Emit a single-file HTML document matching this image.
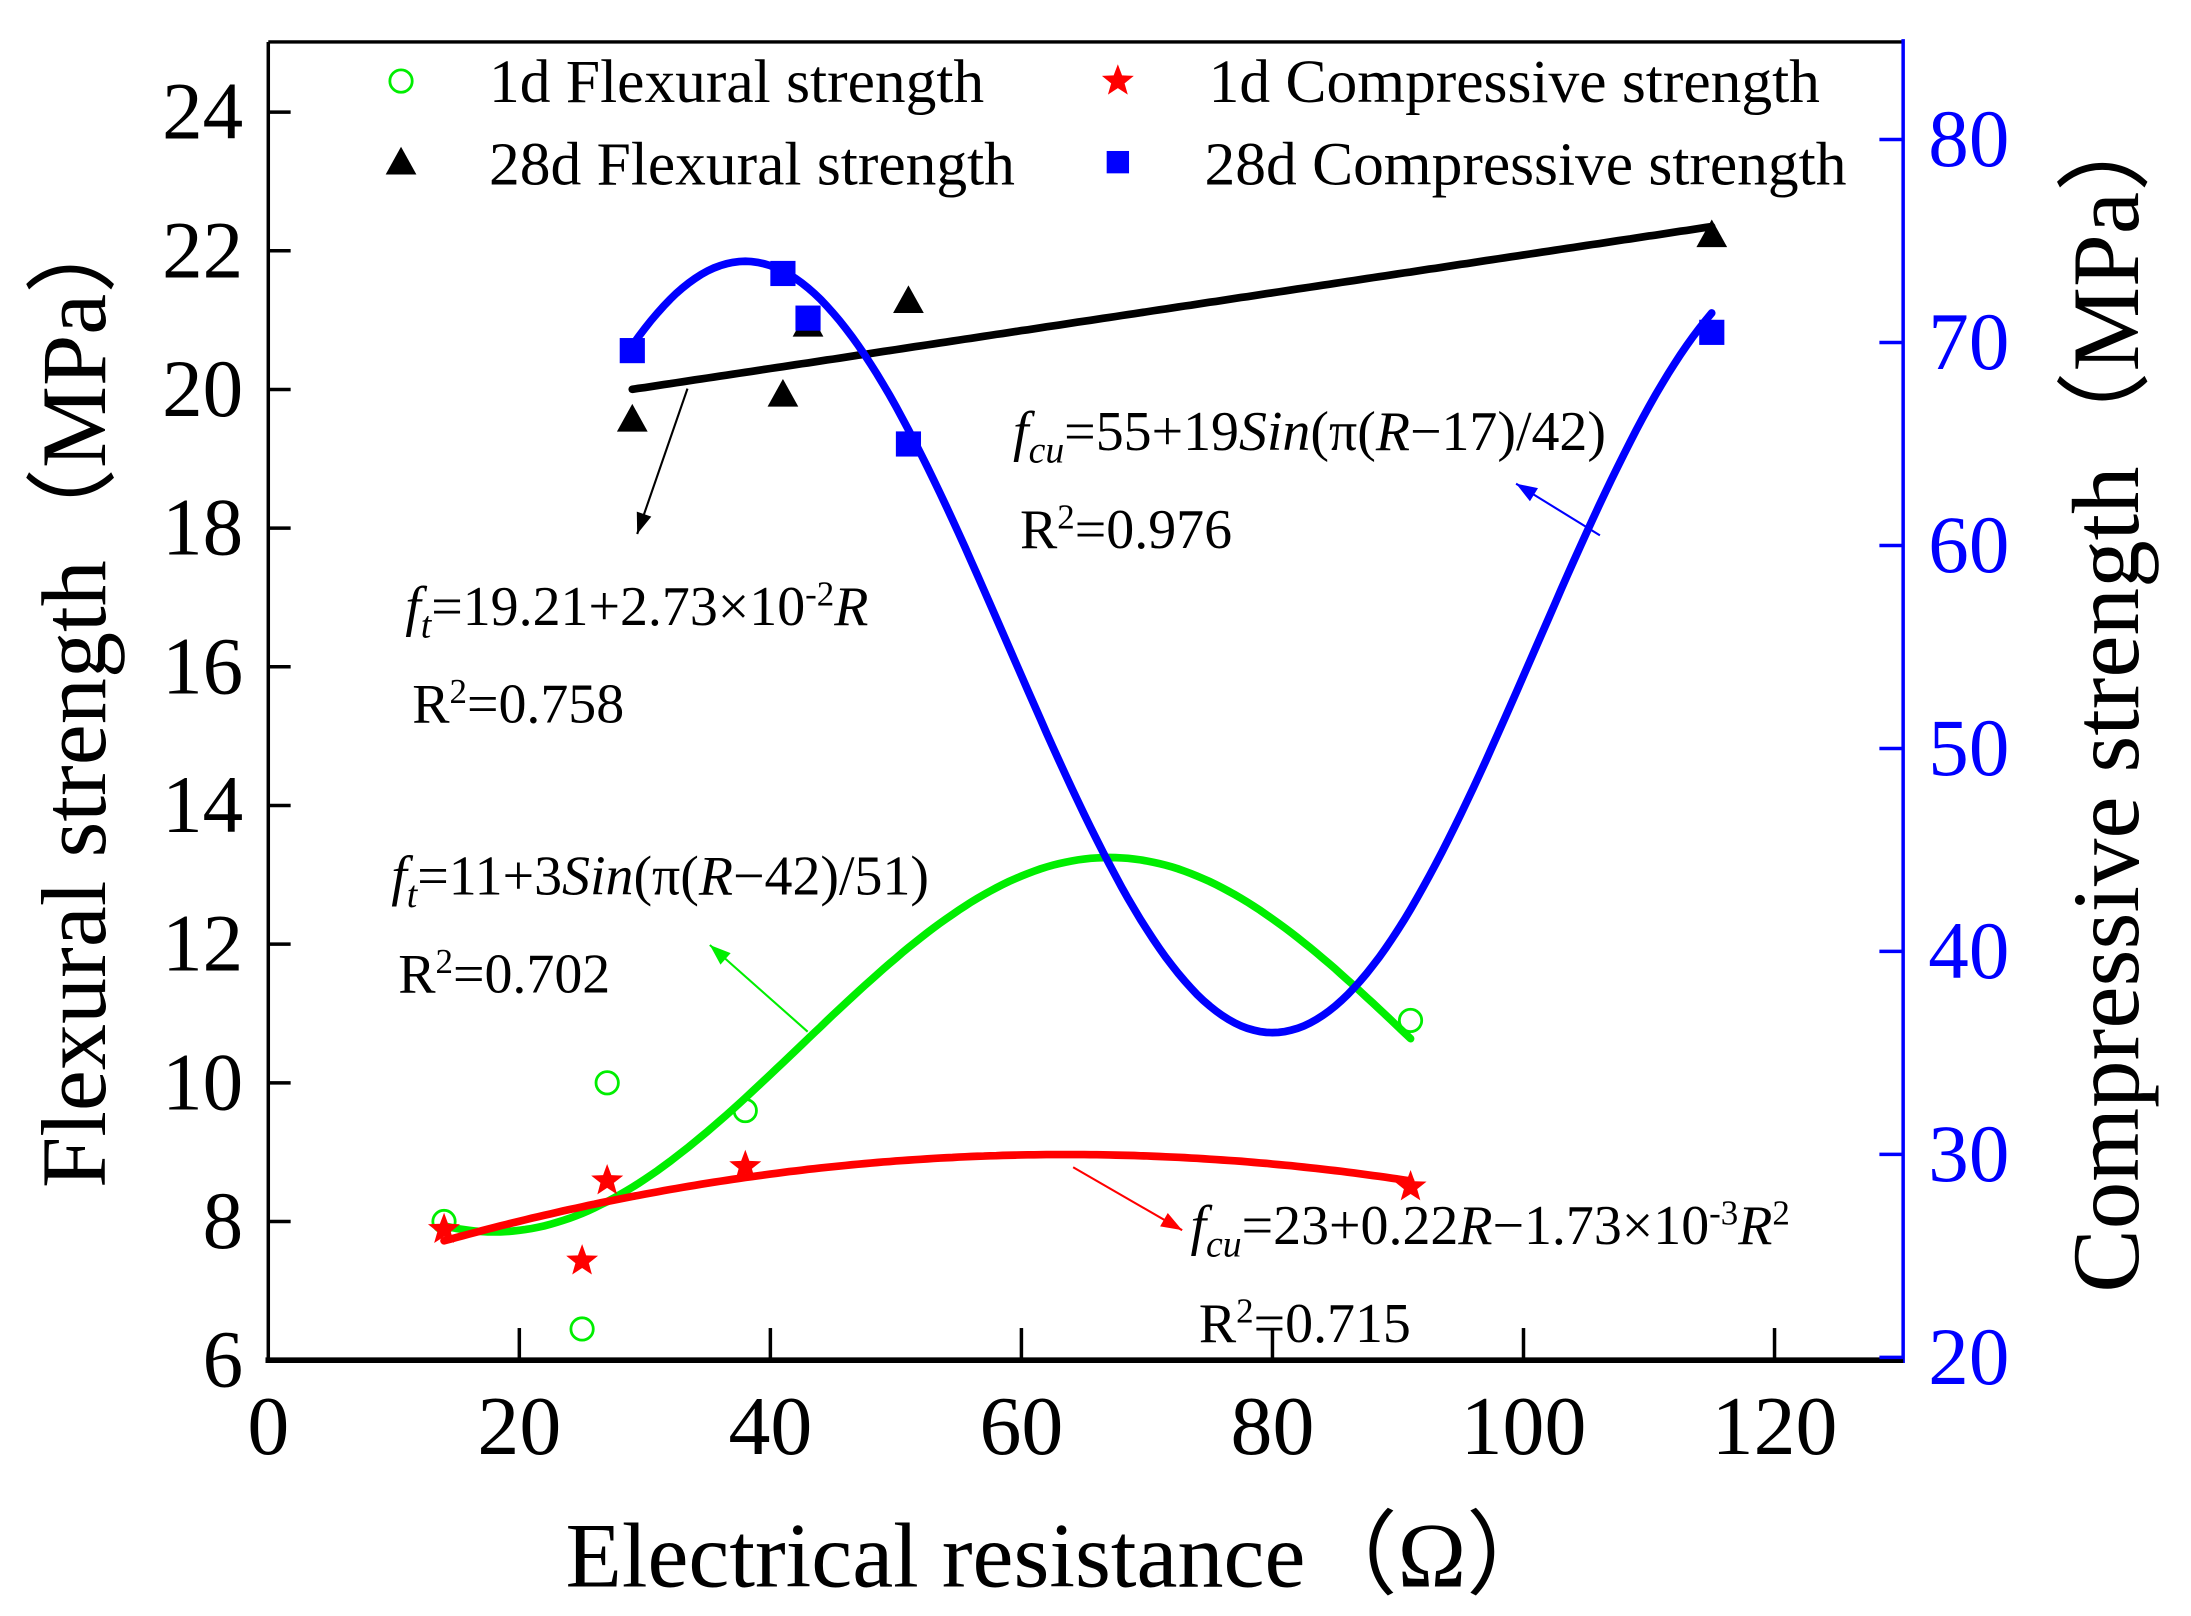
<!DOCTYPE html>
<html><head><meta charset="utf-8"><style>
html,body{margin:0;padding:0;background:#fff;}
svg{display:block;}
text{font-family:"Liberation Serif",serif;}
</style></head><body>
<svg id="chart" width="2191" height="1616" viewBox="0 0 1568 1156" preserveAspectRatio="none" xmlns="http://www.w3.org/2000/svg">
<g id="axes"></g>
<g id="curves"></g>
<g id="marks"></g>
<g id="notes"></g>
</svg>
<script>
const xTicks=[0,20,40,60,80,100,120];
const leftTicks=[6,8,10,12,14,16,18,20,22,24];
const rightTicks=[20,30,40,50,60,70,80];
const fl1X=[14,25,27,38,91];
const fl1Y=[8.0,6.45,10.0,9.6,10.9];
const co1X=[14,25,27,38,91];
const co1Y=[26.3,24.75,28.7,29.4,28.4];
const fl28X=[29,41,43,51,115];
const fl28Y=[19.57,19.93,20.94,21.28,22.23];
const co28X=[29,41,43,51,115];
const co28Y=[69.6,73.4,71.2,65.0,70.5];
const fitFl1=[10.55,2.7,42.5,49];
const fitCo1=[23,0.22,-0.00173];
const fitFl28=[19.21,0.0273];
const fitCo28=[55,19,17,42];

const NS="http://www.w3.org/2000/svg";
const X=v=>192+v*8.983, YL=v=>973-(v-6)*49.6, YR=v=>971-(v-20)*14.52;
function mk(p,tag,a,txt){const e=document.createElementNS(NS,tag);for(const k in a)e.setAttribute(k,a[k]);if(txt!=null)e.textContent=txt;p.appendChild(e);return e;}
const axes=document.getElementById('axes'),curves=document.getElementById('curves'),marks=document.getElementById('marks'),notes=document.getElementById('notes');

let e;
e=mk(axes,'line',{x1:192,y1:30,x2:1362,y2:30,stroke:'#000','stroke-width':2.5});


e=mk(axes,'line',{x1:192,y1:30,x2:192,y2:975,stroke:'#000','stroke-width':2.5});


e=mk(axes,'line',{x1:1362,y1:28,x2:1362,y2:975,stroke:'#00f','stroke-width':2.5});


e=mk(axes,'line',{x1:190,y1:973,x2:1362,y2:973,stroke:'#000','stroke-width':4});


xTicks.forEach(v=>{
  if(v>0){e=mk(axes,'line',{x1:X(v),y1:973,x2:X(v),y2:950,stroke:'#000','stroke-width':2.5});
  
  }
  e=mk(axes,'text',{x:X(v),y:1040,'font-size':60,'text-anchor':'middle'},String(v));
  
  
});
leftTicks.forEach(v=>{
  e=mk(axes,'line',{x1:192,y1:YL(v),x2:208,y2:YL(v),stroke:'#000','stroke-width':2.5});
  
  
  e=mk(axes,'text',{x:174,y:YL(v)+19,'font-size':58,'text-anchor':'end'},String(v));
  
  
});
rightTicks.forEach(v=>{
  e=mk(axes,'line',{x1:1345,y1:YR(v),x2:1362,y2:YR(v),stroke:'#00f','stroke-width':2.5});
  
  
  e=mk(axes,'text',{x:1380,y:YR(v)+19,'font-size':58,fill:'#00f'},String(v));
  
  
});
e=mk(axes,'text',{x:760,y:1135,'font-size':66,'text-anchor':'middle'},'Electrical resistance（Ω）');


e=mk(axes,'text',{x:0,y:0,'font-size':66,'text-anchor':'middle',transform:'translate(75,497) rotate(-90)'},'Flexural strength（MPa）');


e=mk(axes,'text',{x:0,y:0,'font-size':68,'text-anchor':'middle',transform:'translate(1530,497) rotate(-90)'},'Compressive strength（MPa）');



function curve(f,a,b,yf,col,name){
  let d='';for(let r=a;r<=b+1e-9;r+=0.5){d+=(d?'L':'M')+X(r).toFixed(1)+','+yf(f(r)).toFixed(1);}
  const p=mk(curves,'path',{d:d,fill:'none',stroke:col,'stroke-width':5.5,'stroke-linecap':'round'});
  
  
}
curve(r=>fitFl28[0]+fitFl28[1]*r,29,115,YL,'#000','fit-28d-flexural');
curve(r=>fitFl1[0]+fitFl1[1]*Math.sin(Math.PI*(r-fitFl1[2])/fitFl1[3]),14,91,YL,'#0e0','fit-1d-flexural');
curve(r=>fitCo1[0]+fitCo1[1]*r+fitCo1[2]*r*r,14,91,YR,'#f00','fit-1d-compressive');
curve(r=>fitCo28[0]+fitCo28[1]*Math.sin(Math.PI*(r-fitCo28[2])/fitCo28[3]),29,115,YR,'#00f','fit-28d-compressive');

function star(cx,cy,r,col){let pts=[];for(let i=0;i<10;i++){const a=-Math.PI/2+i*Math.PI/5,rr=i%2?r*0.42:r;pts.push((cx+rr*Math.cos(a)).toFixed(1)+','+(cy+rr*Math.sin(a)).toFixed(1));}return {points:pts.join(' '),fill:col};}
function tri(cx,cy,r){return {points:`${cx},${cy-r} ${cx-r},${cy+r*0.8} ${cx+r},${cy+r*0.8}`,fill:'#000'};}
fl1X.forEach((v,i)=>{e=mk(marks,'circle',{cx:X(v),cy:YL(fl1Y[i]),r:8,fill:'none',stroke:'#0e0','stroke-width':2});

});
co1X.forEach((v,i)=>{e=mk(marks,'polygon',star(X(v),YR(co1Y[i]),12,'#f00'));

});
fl28X.forEach((v,i)=>{e=mk(marks,'polygon',tri(X(v),YL(fl28Y[i]),11));

});
co28X.forEach((v,i)=>{e=mk(marks,'rect',{x:X(v)-9,y:YR(co28Y[i])-9,width:18,height:18,fill:'#00f'});

});

// legend
e=mk(notes,'circle',{cx:287,cy:58,r:8,fill:'none',stroke:'#0e0','stroke-width':2});


e=mk(notes,'text',{x:350,y:73,'font-size':44},'1d Flexural strength');


e=mk(notes,'polygon',star(800,58,12,'#f00'));


e=mk(notes,'text',{x:865,y:73,'font-size':44},'1d Compressive strength');


e=mk(notes,'polygon',tri(287,116,11));


e=mk(notes,'text',{x:350,y:132,'font-size':44},'28d Flexural strength');


e=mk(notes,'rect',{x:792,y:108,width:16,height:16,fill:'#00f'});


e=mk(notes,'text',{x:862,y:132,'font-size':44},'28d Compressive strength');



function arrow(x1,y1,x2,y2,col,name){
  const g=mk(notes,'g',{});
  
  
  mk(g,'line',{x1:x1,y1:y1,x2:x2,y2:y2,stroke:col,'stroke-width':1.5});
  const a=Math.atan2(y2-y1,x2-x1),L=16,w=0.35;
  mk(g,'polygon',{points:`${x2},${y2} ${x2-L*Math.cos(a-w)},${y2-L*Math.sin(a-w)} ${x2-L*Math.cos(a+w)},${y2-L*Math.sin(a+w)}`,fill:col});
}
arrow(492,278,456,382,'#000','arrow-28d-flexural');
arrow(1145,383,1085,346,'#00f','arrow-28d-compressive');
arrow(578,738,508,676,'#0e0','arrow-1d-flexural');
arrow(768,835,846,880,'#f00','arrow-1d-compressive');

function eq(x,y,html,name){
  const t=mk(notes,'text',{x:x,y:y,'font-size':40});
  t.innerHTML=html;
  
  
}
eq(290,447,'<tspan font-style="italic">f</tspan><tspan font-style="italic" font-size="27" dy="9">t</tspan><tspan dy="-9">=19.21+2.73×10</tspan><tspan font-size="25" dy="-14">-2</tspan><tspan font-style="italic" dy="14">R</tspan>','equation-28d-flexural');
eq(295,517,'R<tspan font-size="25" dy="-14">2</tspan><tspan dy="14">=0.758</tspan>','r2-28d-flexural');
eq(725,322,'<tspan font-style="italic">f</tspan><tspan font-style="italic" font-size="27" dy="9">cu</tspan><tspan dy="-9">=55+19</tspan><tspan font-style="italic">Sin</tspan>(π(<tspan font-style="italic">R</tspan>−17)/42)','equation-28d-compressive');
eq(730,392,'R<tspan font-size="25" dy="-14">2</tspan><tspan dy="14">=0.976</tspan>','r2-28d-compressive');
eq(280,640,'<tspan font-style="italic">f</tspan><tspan font-style="italic" font-size="27" dy="9">t</tspan><tspan dy="-9">=11+3</tspan><tspan font-style="italic">Sin</tspan>(π(<tspan font-style="italic">R</tspan>−42)/51)','equation-1d-flexural');
eq(285,710,'R<tspan font-size="25" dy="-14">2</tspan><tspan dy="14">=0.702</tspan>','r2-1d-flexural');
eq(852,890,'<tspan font-style="italic">f</tspan><tspan font-style="italic" font-size="27" dy="9">cu</tspan><tspan dy="-9">=23+0.22</tspan><tspan font-style="italic">R</tspan>−1.73×10<tspan font-size="25" dy="-14">-3</tspan><tspan font-style="italic" dy="14">R</tspan><tspan font-size="25" dy="-14">2</tspan>','equation-1d-compressive');
eq(858,960,'R<tspan font-size="25" dy="-14">2</tspan><tspan dy="14">=0.715</tspan>','r2-1d-compressive');
</script>
</body></html>
